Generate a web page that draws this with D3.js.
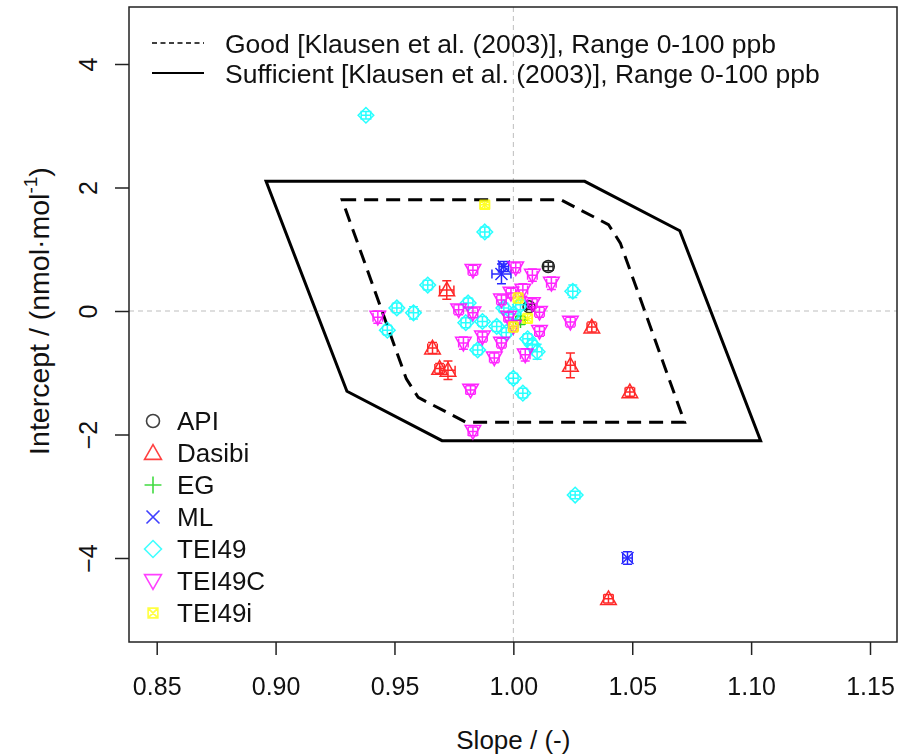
<!DOCTYPE html>
<html>
<head>
<meta charset="utf-8">
<script src="https://cdn.jsdelivr.net/npm/d3@7"></script>
<style>
body { margin: 0; background: #fff; }
text { font-family: "Liberation Sans", Arial, sans-serif; fill: #111; }
</style>
</head>
<body>
<script>
// instrument types shown in the legend
var instruments = ["API", "Dasibi", "EG", "ML", "TEI49", "TEI49C", "TEI49i"];
var colors = ["#000000", "#ff0000", "#00cd00", "#0000ff", "#00ffff", "#ff00ff", "#ffff00"];

// slope / intercept per instrument (with error estimates)
var apiSlope = [1.0147, 1.0066];
var apiIntercept = [0.72, 0.07];
var apiSlopeErr = [0.002, 0.001];
var apiInterceptErr = [0.07, 0.04];

var dasibiSlope = [0.972, 0.966, 0.969, 0.9725, 1.033, 1.024, 1.049, 1.040];
var dasibiIntercept = [0.34, -0.60, -0.93, -0.96, -0.26, -0.88, -1.31, -4.66];
var dasibiSlopeErr = [0.003, 0.002, 0.002, 0.003, 0.002, 0.002, 0.002, 0.002];
var dasibiInterceptErr = [0.15, 0.09, 0.08, 0.15, 0.08, 0.2, 0.07, 0.07];

var egSlope = [1.003];
var egIntercept = [-0.15];
var egSlopeErr = [0.002];
var egInterceptErr = [0.07];

var mlSlope = [0.996, 0.995, 1.048];
var mlIntercept = [0.72, 0.60, -4.0];
var mlSlopeErr = [0.002, 0.004, 0.002];
var mlInterceptErr = [0.08, 0.16, 0.1];

var tei49Slope = [0.938, 0.988, 0.964, 1.025, 0.951, 0.958, 0.947, 0.981, 0.980, 0.987, 0.985, 1.010, 1.000, 1.004, 1.026, 0.997, 1.000, 1.006, 0.993, 1.003, 1.008, 0.996];
var tei49Intercept = [3.17, 1.28, 0.42, 0.32, 0.05, -0.03, -0.31, 0.13, -0.19, -0.17, -0.63, -0.66, -1.09, -1.33, -2.98, -0.35, -0.05, -0.45, -0.25, 0.10, -0.55, 0.05];
var tei49SlopeErr = [0.002, 0.002, 0.002, 0.002, 0.002, 0.002, 0.002, 0.002, 0.002, 0.002, 0.002, 0.002, 0.002, 0.002, 0.002, 0.002, 0.002, 0.002, 0.002, 0.002, 0.002, 0.002];
var tei49InterceptErr = [0.06, 0.08, 0.08, 0.1, 0.08, 0.1, 0.08, 0.08, 0.08, 0.08, 0.08, 0.12, 0.08, 0.08, 0.06, 0.08, 0.08, 0.08, 0.08, 0.08, 0.08, 0.08];

var tei49cSlope = [0.983, 1.001, 1.008, 1.016, 0.977, 0.983, 0.943, 1.011, 1.004, 0.999, 1.024, 0.979, 0.987, 0.992, 1.005, 0.995, 0.982, 0.983, 1.000, 1.011, 0.995, 1.008, 0.998];
var tei49cIntercept = [0.66, 0.70, 0.58, 0.45, 0.02, -0.03, -0.10, -0.02, 0.34, 0.29, -0.18, -0.52, -0.42, -0.76, -0.71, -0.52, -1.28, -1.95, -0.25, -0.33, 0.18, 0.12, -0.10];
var tei49cSlopeErr = [0.002, 0.002, 0.002, 0.002, 0.002, 0.002, 0.002, 0.002, 0.002, 0.002, 0.002, 0.002, 0.002, 0.002, 0.002, 0.002, 0.002, 0.002, 0.002, 0.002, 0.002, 0.002, 0.002];
var tei49cInterceptErr = [0.08, 0.08, 0.1, 0.1, 0.08, 0.08, 0.1, 0.08, 0.1, 0.08, 0.08, 0.1, 0.08, 0.08, 0.1, 0.08, 0.07, 0.07, 0.08, 0.08, 0.08, 0.08, 0.08];

var tei49iSlope = [0.988, 1.002, 1.006, 1.000];
var tei49iIntercept = [1.72, 0.21, -0.12, -0.26];
var tei49iSlopeErr = [0.002, 0.002, 0.002, 0.002];
var tei49iInterceptErr = [0.06, 0.08, 0.08, 0.08];

// acceptance areas (Klausen et al. 2003)
var goodSlope = [0.928, 1.02, 1.04, 1.045, 1.072, 0.98, 0.96, 0.955];
var goodIntercept = [1.8, 1.8, 1.4, 1.1, -1.8, -1.8, -1.4, -1.1];
var sufficientSlope = [0.896, 1.03, 1.07, 1.104, 0.97, 0.93];
var sufficientIntercept = [2.1, 2.1, 1.3, -2.1, -2.1, -1.3];

var xTicks = [0.85, 0.90, 0.95, 1.00, 1.05, 1.10, 1.15];
var yTicks = [-4, -2, 0, 2, 4];
var areaLabels = ["Good [Klausen et al. (2003)], Range 0-100 ppb", "Sufficient [Klausen et al. (2003)], Range 0-100 ppb"];

var series = [
    [apiSlope, apiIntercept, apiSlopeErr, apiInterceptErr],
    [dasibiSlope, dasibiIntercept, dasibiSlopeErr, dasibiInterceptErr],
    [egSlope, egIntercept, egSlopeErr, egInterceptErr],
    [mlSlope, mlIntercept, mlSlopeErr, mlInterceptErr],
    [tei49Slope, tei49Intercept, tei49SlopeErr, tei49InterceptErr],
    [tei49cSlope, tei49cIntercept, tei49cSlopeErr, tei49cInterceptErr],
    [tei49iSlope, tei49iIntercept, tei49iSlopeErr, tei49iInterceptErr]
];

var W = 910, H = 754;
var box = { left: 129, right: 897, top: 7, bottom: 642 };
var font = "Liberation Sans, Arial, sans-serif";

var svg = d3.select("body").append("svg").attr("width", W).attr("height", H);

var x = d3.scaleLinear().domain([0.85, 1.15]).range([156.7, 870]);
var y = d3.scaleLinear().domain([-4, 4]).range([558, 64]);

// reference lines
svg.append("line").attr("x1", x(1)).attr("x2", x(1)).attr("y1", box.top).attr("y2", box.bottom)
    .attr("stroke", "#bdbdbd").attr("stroke-dasharray", "5,4").attr("stroke-width", 1);
svg.append("line").attr("x1", box.left).attr("x2", box.right).attr("y1", y(0)).attr("y2", y(0))
    .attr("stroke", "#bdbdbd").attr("stroke-dasharray", "5,4").attr("stroke-width", 1);

// acceptance polygons
var line = d3.line().x(function (d) { return x(d[0]); }).y(function (d) { return y(d[1]); });
var good = d3.zip(goodSlope, goodIntercept);
var sufficient = d3.zip(sufficientSlope, sufficientIntercept);
svg.append("path").attr("d", line(good) + "Z").attr("fill", "none").attr("stroke", "#000")
    .attr("stroke-width", 3).attr("stroke-dasharray", "14,8");
svg.append("path").attr("d", line(sufficient) + "Z").attr("fill", "none").attr("stroke", "#000")
    .attr("stroke-width", 3).attr("stroke-linejoin", "miter");

// symbol shapes (R pch 1,2,3,4,5,6,7)
function shape(i, s) {
    var h = s / 2, t = h * 1.3, d = h * 0.75;
    switch (i) {
        case 0: return "M" + h + ",0A" + h + "," + h + " 0 1,1 " + (-h) + ",0A" + h + "," + h + " 0 1,1 " + h + ",0Z";
        case 1: return "M0," + (-t) + "L" + t + "," + (t * 0.75) + "L" + (-t) + "," + (t * 0.75) + "Z";
        case 2: return "M" + (-t) + ",0H" + t + "M0," + (-t) + "V" + t;
        case 3: return "M" + (-h) + "," + (-h) + "L" + h + "," + h + "M" + (-h) + "," + h + "L" + h + "," + (-h);
        case 4: return "M0," + (-t) + "L" + t + ",0L0," + t + "L" + (-t) + ",0Z";
        case 5: return "M0," + t + "L" + t + "," + (-t * 0.75) + "L" + (-t) + "," + (-t * 0.75) + "Z";
        case 6: return "M" + (-d) + "," + (-d) + "H" + d + "V" + d + "H" + (-d) + "Z" +
            "M" + (-d) + "," + (-d) + "L" + d + "," + d + "M" + (-d) + "," + d + "L" + d + "," + (-d);
    }
}

// points with error bars
var cap = 4.5;
series.forEach(function (s, i) {
    var pts = d3.range(s[0].length).map(function (k) {
        return { sx: s[0][k], sy: s[1][k], ex: s[2][k], ey: s[3][k] };
    });
    var g = svg.append("g").attr("stroke", colors[i]).attr("fill", "none").attr("stroke-width", 1.5)
        .attr("opacity", 0.85);
    var p = g.selectAll("g").data(pts).enter().append("g");
    p.append("path").attr("d", function (d) {
        var cx = x(d.sx), cy = y(d.sy);
        var x0 = x(d.sx - d.ex), x1 = x(d.sx + d.ex), y0 = y(d.sy + d.ey), y1 = y(d.sy - d.ey);
        return "M" + x0 + "," + cy + "H" + x1 +
            "M" + x0 + "," + (cy - cap) + "V" + (cy + cap) +
            "M" + x1 + "," + (cy - cap) + "V" + (cy + cap) +
            "M" + cx + "," + y0 + "V" + y1 +
            "M" + (cx - cap) + "," + y0 + "H" + (cx + cap) +
            "M" + (cx - cap) + "," + y1 + "H" + (cx + cap);
    });
    p.append("path").attr("transform", function (d) { return "translate(" + x(d.sx) + "," + y(d.sy) + ")"; })
        .attr("d", shape(i, 12));
});

// box
svg.append("rect").attr("x", box.left).attr("y", box.top).attr("width", box.right - box.left)
    .attr("height", box.bottom - box.top).attr("fill", "none").attr("stroke", "#222").attr("stroke-width", 1.5);

// axes
var xAxis = svg.append("g").attr("transform", "translate(0," + box.bottom + ")")
    .call(d3.axisBottom(x).tickValues(xTicks).tickFormat(d3.format(".2f")).tickSize(13).tickPadding(22));
xAxis.select(".domain").remove();
xAxis.selectAll("line").attr("stroke", "#222").attr("stroke-width", 1.5);
xAxis.selectAll("text").attr("font-size", 25).attr("font-family", font).attr("fill", "#111");

var yAxis = svg.append("g").attr("transform", "translate(" + box.left + ",0)")
    .call(d3.axisLeft(y).tickValues(yTicks).tickSize(14));
yAxis.select(".domain").remove();
yAxis.selectAll("line").attr("stroke", "#222").attr("stroke-width", 1.5);
yAxis.selectAll("text").attr("x", null).attr("dy", null).attr("text-anchor", "middle")
    .attr("transform", "translate(-32,0) rotate(-90)")
    .attr("font-size", 25).attr("font-family", font).attr("fill", "#111");

// axis titles
svg.append("text").attr("x", x(1)).attr("y", 749).attr("text-anchor", "middle").attr("font-size", 26)
    .text("Slope / (-)");
var yt = svg.append("text").attr("transform", "translate(49,311) rotate(-90)").attr("text-anchor", "middle")
    .attr("font-size", 28.5);
yt.append("tspan").text("Intercept / (nmol\u00b7mol");
yt.append("tspan").attr("font-size", 19).attr("dy", -12).text("-1");
yt.append("tspan").attr("dy", 12).text(")");

// top legend
var legTop = svg.append("g");
[43, 73].forEach(function (ly, i) {
    legTop.append("line").attr("x1", 152).attr("x2", 204).attr("y1", ly).attr("y2", ly)
        .attr("stroke", "#000").attr("stroke-width", i === 0 ? 1.5 : 2.2)
        .attr("stroke-dasharray", i === 0 ? "5,3.5" : null);
    legTop.append("text").attr("x", 225).attr("y", ly).attr("dy", "0.36em").attr("font-size", 26.5)
        .text(areaLabels[i]);
});

// instrument legend
var leg = svg.append("g").selectAll("g").data(instruments).enter().append("g")
    .attr("transform", function (d, i) { return "translate(153," + (421 + i * 32) + ")"; });
leg.append("path").attr("d", function (d, i) { return shape(i, 13); })
    .attr("fill", "none").attr("stroke-width", 1.6).attr("opacity", 0.75)
    .attr("stroke", function (d, i) { return colors[i]; });
leg.append("text").attr("x", 24).attr("dy", "0.36em").attr("font-size", 26).text(function (d) { return d; });
</script>
</body>
</html>
